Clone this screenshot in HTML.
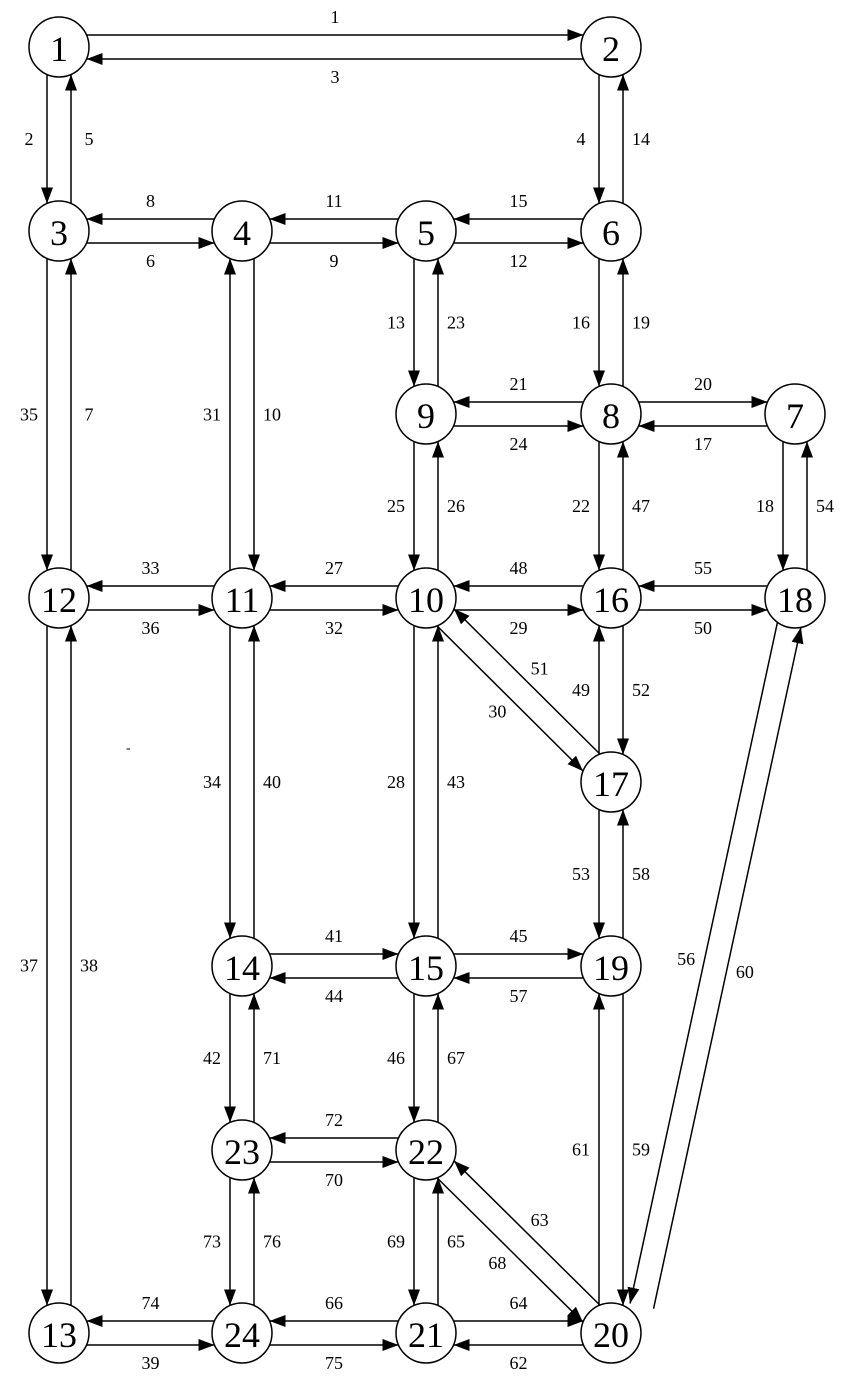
<!DOCTYPE html>
<html><head><meta charset="utf-8"><style>
html,body{margin:0;padding:0;background:#fff}
svg{display:block}
</style></head><body>
<svg id="g" width="850" height="1395" viewBox="0 0 850 1395" xmlns="http://www.w3.org/2000/svg">
<defs><marker id="ah" markerWidth="16" markerHeight="12" refX="16" refY="6" orient="auto" markerUnits="userSpaceOnUse"><path d="M0,0 L16,6 L0,12 z" fill="#000"/></marker></defs>
<text x="126" y="752" font-family="Liberation Serif, serif" font-size="14">-</text>
</svg>
<script>
const nodeIds=[1,2,3,4,5,6,7,8,9,10,11,12,13,14,15,16,17,18,19,20,21,22,23,24];
const nodeX=[59,611,59,242,426,611,795,611,426,426,242,59,59,242,426,611,611,795,611,611,426,426,242,242];
const nodeY=[47,47,231,231,231,231,414,414,414,598,598,598,1333,966,966,598,782,598,966,1333,1333,1150,1150,1333];
const edgeFrom=[1,2,3,4,4,5,5,6,8,9,8,7,11,12,10,11,16,10,18,16,14,15,15,19,22,23,24,13,21,24,21,20,
1,3,2,6,3,12,4,11,5,9,6,8,9,10,8,16,7,18,12,13,11,14,10,15,17,16,17,19,14,23,15,22,20,19,23,24,22,21,
10,17,18,20,22,20];
const edgeTo=[2,1,4,3,5,4,6,5,9,8,7,8,12,11,11,10,10,16,16,18,15,14,19,15,23,22,13,24,24,21,20,21,
3,1,6,2,12,3,11,4,9,5,8,6,10,9,16,8,18,7,13,12,14,11,15,10,16,17,19,17,23,14,22,15,19,20,24,23,21,22,
17,10,20,18,20,22];
const edgeLabel=[1,3,6,8,9,11,12,15,21,24,20,17,33,36,27,32,48,29,55,50,41,44,45,57,72,70,74,39,66,75,64,62,
2,5,4,14,35,7,10,31,13,23,16,19,25,26,22,47,18,54,37,38,34,40,28,43,49,52,53,58,42,71,46,67,61,59,73,76,69,65,
30,51,56,60,68,63];
const edgeSide=[1,-1,-1,1,-1,1,-1,1,1,-1,1,-1,1,-1,1,-1,1,-1,1,-1,1,-1,1,-1,1,-1,1,-1,1,-1,1,-1,
-1,1,-1,1,-1,1,1,-1,-1,1,-1,1,-1,1,-1,1,-1,1,-1,1,-1,1,-1,1,-1,1,-1,1,-1,1,-1,1,-1,1,-1,1,-1,1,
-1,1,-1,1,-1,1];
const R=30,OFF=12,LOFF=30;
const svg=document.getElementById('g');
const NS='http://www.w3.org/2000/svg';
function pos(id){const i=nodeIds.indexOf(id);return [nodeX[i],nodeY[i]];}
for(let k=0;k<edgeFrom.length;k++){
  let [ax,ay]=pos(edgeFrom[k]),[bx,by]=pos(edgeTo[k]);
  const lng=(edgeFrom[k]===18&&edgeTo[k]===20)||(edgeFrom[k]===20&&edgeTo[k]===18);
  if(lng){ if(edgeFrom[k]===20){ax+=25;} else {bx+=25;} }
  let dx=bx-ax,dy=by-ay;const L=Math.hypot(dx,dy);
  let ux=dx/L,uy=dy/L;
  let cx=ux,cy=uy;if(cy<0||(cy===0&&cx<0)){cx=-cx;cy=-cy;}
  const nx=cy,ny=-cx,s=edgeSide[k];
  const t=Math.sqrt(R*R-OFF*OFF);
  const ox=nx*OFF*s,oy=ny*OFF*s;
  const line=document.createElementNS(NS,'line');
  line.setAttribute('x1',ax+ux*t+ox);line.setAttribute('y1',ay+uy*t+oy);
  line.setAttribute('x2',bx-ux*t+ox);line.setAttribute('y2',by-uy*t+oy);
  line.setAttribute('stroke','#000');line.setAttribute('stroke-width','1.5');
  line.setAttribute('marker-end','url(#ah)');
  
  
  svg.appendChild(line);
  const tx=document.createElementNS(NS,'text');
  tx.setAttribute('x',(ax+bx)/2+nx*LOFF*s);tx.setAttribute('y',(ay+by)/2+ny*LOFF*s);
  tx.setAttribute('text-anchor','middle');tx.setAttribute('dominant-baseline','central');
  tx.setAttribute('font-family','Liberation Serif, serif');tx.setAttribute('font-size','18');
  tx.textContent=edgeLabel[k];
  
  
  svg.appendChild(tx);
}
for(let i=0;i<nodeIds.length;i++){
  const c=document.createElementNS(NS,'circle');
  c.setAttribute('cx',nodeX[i]);c.setAttribute('cy',nodeY[i]);c.setAttribute('r',R);
  c.setAttribute('fill','#fff');c.setAttribute('stroke','#000');c.setAttribute('stroke-width','1.5');
  
  
  svg.appendChild(c);
  const t=document.createElementNS(NS,'text');
  t.setAttribute('x',nodeX[i]);t.setAttribute('y',nodeY[i]+2);
  t.setAttribute('text-anchor','middle');t.setAttribute('dominant-baseline','central');
  t.setAttribute('font-family','Liberation Serif, serif');t.setAttribute('font-size','36');
  t.textContent=nodeIds[i];
  
  
  svg.appendChild(t);
}
</script>
</body></html>
